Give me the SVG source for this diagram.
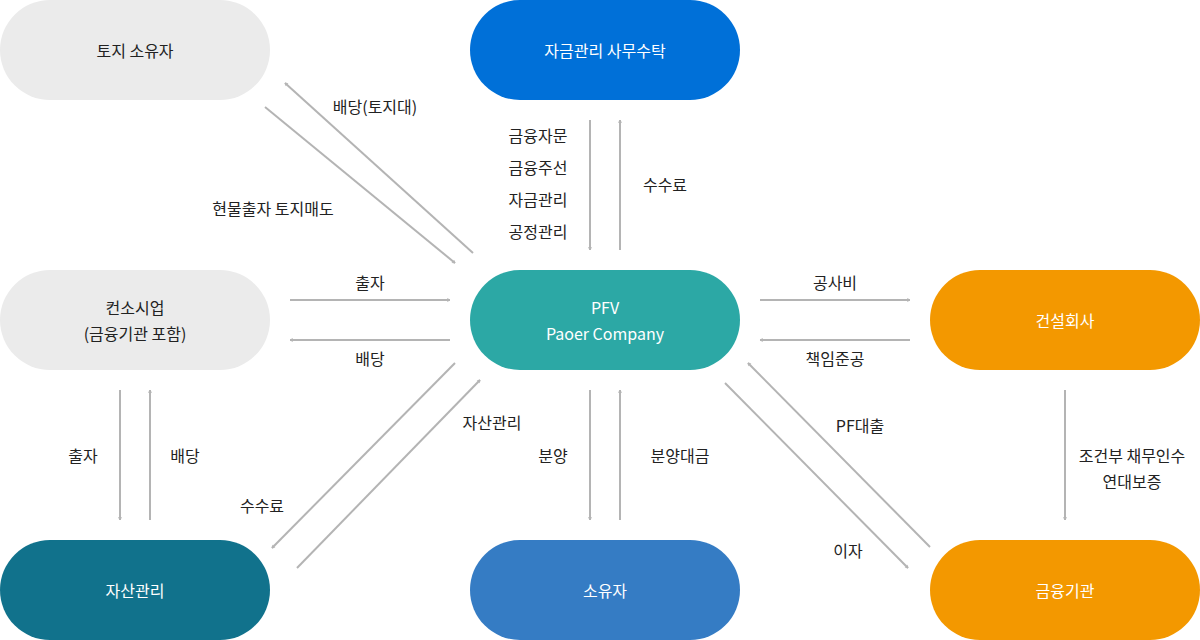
<svg xmlns="http://www.w3.org/2000/svg" width="1200" height="640" viewBox="0 0 1200 640">
<style>
text{font-family:"Noto Sans CJK KR","Noto Sans",sans-serif;font-size:16px;text-anchor:middle;dominant-baseline:central}
.w{fill:#fff}.d{fill:#222}
.c line{stroke:#b4b4b4;stroke-width:2;marker-end:url(#a)}
</style>
<defs><marker id="a" viewBox="0 0 10 10" refX="9" refY="5" markerWidth="4" markerHeight="4" orient="auto" markerUnits="userSpaceOnUse" style="overflow:visible"><path d="M2,1 L9,5 L2,9" fill="none" stroke="#b4b4b4" stroke-width="2"/></marker></defs>
<rect width="1200" height="640" fill="#fff"/>
<g id="n1"><rect x="0" y="0" width="270" height="100" rx="50" fill="#ebebeb"/><text class="d" x="135" y="50">토지 소유자</text></g>
<g id="n2"><rect x="470" y="0" width="270" height="100" rx="50" fill="#0070d8"/><text class="w" x="605" y="50">자금관리 사무수탁</text></g>
<g id="n3"><rect x="0" y="270" width="270" height="100" rx="50" fill="#ebebeb"/><text class="d" x="135" y="307">컨소시업</text><text class="d" x="135" y="333">(금융기관 포함)</text></g>
<g id="n4"><rect x="470" y="270" width="270" height="100" rx="50" fill="#2ca8a5"/><text class="w" x="605" y="307">PFV</text><text class="w" x="605" y="333">Paoer Company</text></g>
<g id="n5"><rect x="930" y="270" width="270" height="100" rx="50" fill="#f39800"/><text class="w" x="1065" y="320">건설회사</text></g>
<g id="n6"><rect x="0" y="540" width="270" height="100" rx="50" fill="#11728c"/><text class="w" x="135" y="590">자산관리</text></g>
<g id="n7"><rect x="470" y="540" width="270" height="100" rx="50" fill="#357cc4"/><text class="w" x="605" y="590">소유자</text></g>
<g id="n8"><rect x="930" y="540" width="270" height="100" rx="50" fill="#f39800"/><text class="w" x="1065" y="590">금융기관</text></g>
<g class="c" id="connectors">
<line x1="473" y1="253" x2="285" y2="83"/>
<line x1="265" y1="107" x2="455" y2="263"/>
<line x1="590" y1="120" x2="590" y2="250"/>
<line x1="620" y1="250" x2="620" y2="120"/>
<line x1="290" y1="300" x2="450" y2="300"/>
<line x1="450" y1="340" x2="290" y2="340"/>
<line x1="760" y1="300" x2="910" y2="300"/>
<line x1="910" y1="340" x2="760" y2="340"/>
<line x1="120" y1="390" x2="120" y2="520"/>
<line x1="150" y1="520" x2="150" y2="390"/>
<line x1="455" y1="363" x2="272" y2="548"/>
<line x1="297" y1="568" x2="480" y2="380"/>
<line x1="590" y1="390" x2="590" y2="520"/>
<line x1="620" y1="520" x2="620" y2="390"/>
<line x1="1065" y1="390" x2="1065" y2="520"/>
<line x1="930" y1="547" x2="748" y2="363"/>
<line x1="725" y1="383" x2="908" y2="568"/>
</g>
<g class="d">
<text class="d" x="375" y="106">배당(토지대)</text>
<text class="d" x="273" y="208">현물출자 토지매도</text>
<text class="d" x="538" y="135">금융자문</text>
<text class="d" x="538" y="167">금융주선</text>
<text class="d" x="538" y="199">자금관리</text>
<text class="d" x="538" y="231">공정관리</text>
<text class="d" x="665" y="184">수수료</text>
<text class="d" x="370" y="282">출자</text>
<text class="d" x="370" y="358">배당</text>
<text class="d" x="835" y="282">공사비</text>
<text class="d" x="835" y="358">책임준공</text>
<text class="d" x="83" y="455">출자</text>
<text class="d" x="185" y="455">배당</text>
<text class="d" x="262" y="505">수수료</text>
<text class="d" x="492" y="422">자산관리</text>
<text class="d" x="553" y="455">분양</text>
<text class="d" x="680" y="455">분양대금</text>
<text class="d" x="860" y="425">PF대출</text>
<text class="d" x="848" y="550">이자</text>
<text class="d" x="1132" y="455">조건부 채무인수</text>
<text class="d" x="1132" y="481">연대보증</text>
</g>
</svg>
